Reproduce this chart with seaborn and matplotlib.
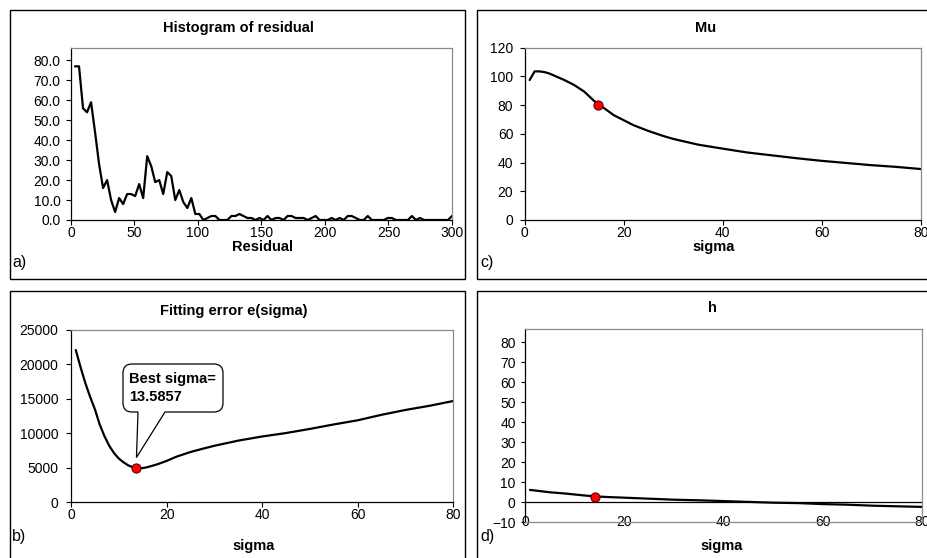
import numpy as np
import pandas as pd
import matplotlib
matplotlib.use("Agg")
import matplotlib.pyplot as plt
from matplotlib.path import Path
from matplotlib.patches import PathPatch, Rectangle
from matplotlib.transforms import IdentityTransform
import seaborn as sns

# ---------------- data ----------------
# histogram of residuals (bin centres and counts)
resid_bins = np.arange(1, 96) * (300 / 95)
resid_counts = [77, 77, 56, 54, 59, 44, 28, 16, 20, 10,
                4, 11, 8, 13, 13, 12, 18, 11, 32, 27,
                19, 20, 13, 24, 22, 10, 15, 9, 6, 11,
                3, 3, 0, 1, 2, 2, 0, 0, 0, 2,
                2, 3, 2, 1, 1, 0, 1, 0, 2, 0,
                1, 1, 0, 2, 2, 1, 1, 1, 0, 1,
                2, 0, 0, 0, 1, 0, 1, 0, 2, 2,
                1, 0, 0, 2, 0, 0, 0, 0, 1, 1,
                0, 0, 0, 0, 2, 0, 1, 0, 0, 0,
                0, 0, 0, 0, 2]

# fitting error e(sigma)
err_sigma = [1, 2, 3, 4, 5, 6, 7, 8, 9, 10, 11, 12, 13, 14, 15, 16, 18, 20,
             22, 25, 28, 30, 35, 40, 45, 50, 55, 60, 65, 70, 75, 80]
err_value = [22100, 19600, 17300, 15300, 13500, 11300, 9600, 8200, 7150, 6350,
             5800, 5350, 5080, 4950, 4960, 5100, 5500, 6000,
             6600, 7300, 7850, 8200, 8950, 9550, 10050, 10650, 11300, 11900,
             12700, 13400, 14000, 14700]
best_sigma = 13.5857
best_err = 4990

# Mu(sigma)
mu_sigma = [1, 2, 3, 4, 5, 6, 8, 10, 12, 14, 15, 16, 18, 20, 22, 25, 28, 30,
            35, 40, 45, 50, 55, 60, 65, 70, 75, 80]
mu_value = [97.5, 103.5, 103.5, 103, 102, 100.5, 97.5, 94, 89.5, 83, 80.5, 78,
            73, 69.5, 66, 62, 58.5, 56.5, 52.5, 49.7, 47, 45, 43, 41.2, 39.7,
            38.2, 37, 35.5]
mu_best = (14.8, 80)

# h(sigma)
h_sigma = [1, 3, 5, 8, 10, 12, 14, 16, 18, 20, 25, 30, 35, 40, 45, 50, 55,
           60, 65, 70, 75, 80]
h_value = [6.2, 5.6, 5.0, 4.4, 3.9, 3.4, 3.0, 2.7, 2.5, 2.3, 1.8, 1.3, 1.0,
           0.6, 0.2, -0.2, -0.4, -0.9, -1.2, -1.7, -2.0, -2.3]
h_best = (14.2, 2.8)

# ---------------- style ----------------
sns.set_style("white")
plt.rcParams["font.family"] = ["Liberation Sans", "DejaVu Sans"]
plt.rcParams["text.color"] = "black"
plt.rcParams["xtick.color"] = "black"
plt.rcParams["ytick.color"] = "black"
plt.rcParams["axes.labelcolor"] = "black"

W, H = 928, 558
fig = plt.figure(figsize=(W / 100, H / 100), dpi=100)
GRAY = "#8a8a8a"
TICK_FS = 10
LAB_FS = 10.5


def px_axes(l, t, r, b):
    return fig.add_axes([l / W, 1 - b / H, (r - l) / W, (b - t) / H])


def ftext(x, y, s, **kw):
    fig.text(x / W, 1 - y / H, s, color="black", **kw)


def style_axes(ax, ypad=4.0, ylen=3.6):
    for side in ("left", "bottom"):
        ax.spines[side].set_color("black")
        ax.spines[side].set_linewidth(0.9)
    for side in ("top", "right"):
        ax.spines[side].set_color(GRAY)
        ax.spines[side].set_linewidth(0.9)
    ax.tick_params(axis="both", direction="out", width=0.8,
                   color="black", labelcolor="black", labelsize=TICK_FS,
                   bottom=True, left=True)
    ax.tick_params(axis="x", length=3.6, pad=0.4)
    ax.tick_params(axis="y", length=ylen, pad=ypad)
    ax.set_xlabel("")
    ax.set_ylabel("")
    ax.set_facecolor("white")


# panel frames
for (l, t, r, b) in [(10, 10, 465, 279), (477.5, 10, 940, 279),
                     (10, 291, 465, 570), (477.5, 291, 940, 570)]:
    fig.add_artist(Rectangle((l / W, 1 - b / H), (r - l) / W, (b - t) / H,
                             transform=fig.transFigure, fill=False,
                             edgecolor="black", linewidth=1.0))

line_kw = dict(color="black", linewidth=1.6)
dot_kw = dict(color="red", edgecolor="#400000", linewidth=0.7, s=44, zorder=5)

# a) histogram of residual
ax = px_axes(71, 48, 452, 220)
sns.lineplot(x=resid_bins, y=resid_counts, ax=ax, **line_kw)
ax.set_xlim(0, 300)
ax.set_ylim(0, 86.2)
ax.set_xticks(np.arange(0, 301, 50))
ax.set_yticks(np.arange(0, 81, 10))
ax.set_yticklabels([f"{v:.1f}" for v in np.arange(0, 81, 10)])
style_axes(ax, ypad=4.0)

# c) Mu
ax = px_axes(524.7, 47.7, 920.7, 220)
sns.lineplot(x=mu_sigma, y=mu_value, ax=ax, **line_kw)
sns.scatterplot(x=[mu_best[0]], y=[mu_best[1]], ax=ax, **dot_kw)
ax.set_xlim(0, 80)
ax.set_ylim(0, 120)
ax.set_xticks(np.arange(0, 81, 20))
ax.set_yticks(np.arange(0, 121, 20))
style_axes(ax, ypad=4.6)

# b) fitting error
ax = px_axes(71, 330, 453.3, 502.3)
sns.lineplot(x=err_sigma, y=err_value, ax=ax, **line_kw)
sns.scatterplot(x=[best_sigma], y=[best_err], ax=ax, **dot_kw)
ax.set_xlim(0, 80)
ax.set_ylim(0, 25000)
ax.set_xticks(np.arange(0, 81, 20))
ax.set_yticks(np.arange(0, 25001, 5000))
style_axes(ax, ypad=5.6, ylen=3.4)

# callout box with pointer (display pixels, y upwards)
L, R, T, B, rr = 123, 223, H - 364, H - 412, 9
tip = ax.transData.transform((13.7, 6500))
verts = [(L + rr, T), (R - rr, T), (R, T), (R, T - rr), (R, B + rr), (R, B),
         (R - rr, B), (165, B), tuple(tip), (138, B), (L + rr, B), (L, B),
         (L, B + rr), (L, T - rr), (L, T), (L + rr, T), (L + rr, T)]
codes = [Path.MOVETO, Path.LINETO, Path.CURVE3, Path.CURVE3, Path.LINETO,
         Path.CURVE3, Path.CURVE3, Path.LINETO, Path.LINETO, Path.LINETO,
         Path.LINETO, Path.CURVE3, Path.CURVE3, Path.LINETO, Path.CURVE3,
         Path.CURVE3, Path.CLOSEPOLY]
fig.add_artist(PathPatch(Path(verts, codes), transform=IdentityTransform(),
                         facecolor="white", edgecolor="black", linewidth=0.9,
                         zorder=10))
ftext(129, 379, "Best sigma=", fontsize=LAB_FS, fontweight="bold",
      va="center", ha="left", zorder=11)
ftext(129, 397, f"{best_sigma:.4f}", fontsize=LAB_FS, fontweight="bold",
      va="center", ha="left", zorder=11)

# d) h
ax = px_axes(525, 329, 922, 522.3)
sns.lineplot(x=h_sigma, y=h_value, ax=ax, **line_kw)
sns.scatterplot(x=[h_best[0]], y=[h_best[1]], ax=ax, **dot_kw)
ax.axhline(0, color="black", linewidth=0.9, zorder=1)
ax.set_xlim(0, 80)
ax.set_ylim(-10, 86.6)
ax.set_xticks(np.arange(0, 81, 20))
ax.set_yticks(np.arange(-10, 81, 10))
style_axes(ax, ypad=3.6, ylen=3.1)
ax.spines["bottom"].set_color(GRAY)
ax.tick_params(axis="x", length=0, pad=-5.0)
for lbl in ax.get_xticklabels():
    lbl.set_zorder(0)

# titles, axis labels and panel letters
title_kw = dict(fontsize=LAB_FS, fontweight="bold", ha="center", va="center")
ftext(238, 28, "Histogram of residual", **title_kw)
ftext(706, 28, "Mu", **title_kw)
ftext(234, 311, "Fitting error e(sigma)", **title_kw)
ftext(712, 308, "h", **title_kw)
ftext(263, 247, "Residual", **title_kw)
ftext(714, 247, "sigma", **title_kw)
ftext(254, 546, "sigma", **title_kw)
ftext(722, 546, "sigma", **title_kw)

let_kw = dict(fontsize=11.5, ha="left", va="center")
ftext(12, 262, "a)", **let_kw)
ftext(480, 262, "c)", **let_kw)
ftext(12, 537, "b)", **let_kw)
ftext(480, 537, "d)", **let_kw)

fig.savefig("out.png", dpi=100, facecolor="white")
